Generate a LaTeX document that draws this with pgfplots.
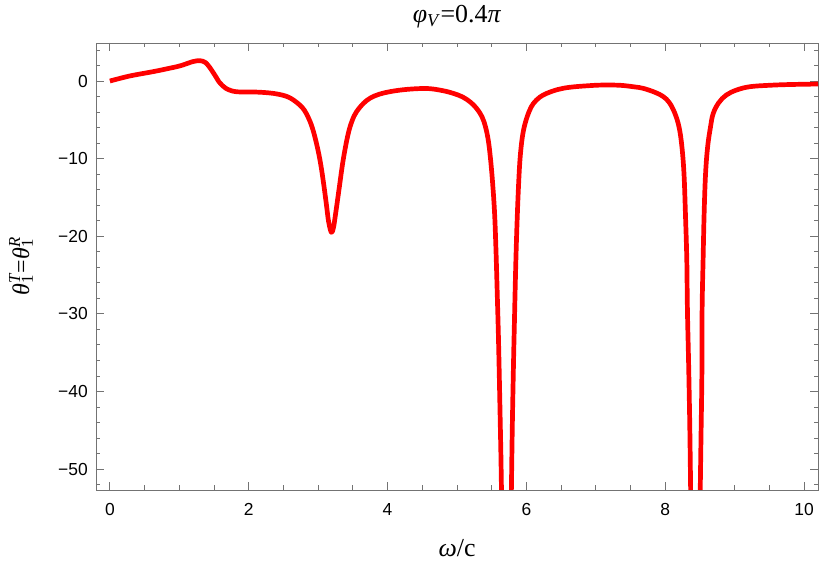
\documentclass[border=0pt]{standalone}
\usepackage{fontspec}
\setmainfont{Liberation Serif}
\newfontfamily\ticksf{Liberation Sans}
\usepackage{pgfplots}
\pgfplotsset{compat=1.18}
\usepackage{pgfplotstable}

\definecolor{framegray}{gray}{0.45}

% theta_1 against omega/c
\pgfplotstableread{
x y
0 0
0.14 0.33
0.28 0.64
0.42 0.88
0.57 1.12
0.71 1.36
0.85 1.63
0.96 1.84
1.05 2.06
1.12 2.28
1.19 2.49
1.25 2.60
1.30 2.62
1.34 2.55
1.38 2.36
1.43 1.85
1.48 1.20
1.53 0.50
1.57 -0.09
1.62 -0.58
1.67 -0.94
1.74 -1.22
1.82 -1.38
1.96 -1.42
2.10 -1.42
2.21 -1.47
2.36 -1.60
2.50 -1.85
2.60 -2.2
2.69 -2.75
2.77 -3.4
2.83 -4.2
2.90 -5.6
2.95 -7.1
3.00 -9.0
3.04 -10.9
3.08 -13.3
3.12 -16.0
3.15 -18.1
3.19 -19.5
3.22 -18.9
3.25 -17.2
3.30 -14.0
3.36 -10.2
3.43 -6.9
3.49 -5.1
3.55 -4.0
3.65 -2.9
3.75 -2.2
3.88 -1.7
4.03 -1.38
4.20 -1.15
4.40 -1.00
4.60 -0.98
4.80 -1.25
4.95 -1.60
5.08 -2.05
5.19 -2.7
5.28 -3.5
5.36 -4.6
5.41 -5.9
5.45 -7.6
5.48 -9.8
5.51 -12.8
5.54 -16.8
5.56 -21.4
5.58 -27.5
5.60 -34.2
5.63 -47.1
5.715 -85
5.80 -42.8
5.83 -29.9
5.85 -22.5
5.87 -17
5.89 -12.8
5.91 -9.8
5.94 -7.3
5.98 -5.5
6.04 -3.9
6.10 -2.9
6.19 -2.1
6.29 -1.6
6.45 -1.1
6.63 -0.8
6.90 -0.6
7.10 -0.52
7.35 -0.55
7.55 -0.75
7.68 -0.94
7.85 -1.45
7.97 -2.0
8.06 -2.8
8.14 -4.2
8.20 -6.0
8.24 -8.5
8.27 -12
8.29 -17
8.31 -23
8.32 -29.9
8.35 -42.8
8.43 -85
8.52 -42.8
8.53 -29.9
8.545 -23
8.56 -17
8.58 -12
8.61 -8.5
8.65 -6.0
8.69 -4.2
8.77 -2.8
8.88 -1.8
9.03 -1.15
9.22 -0.73
9.5 -0.55
9.8 -0.45
10.2 -0.39
}\thetadata

\begin{document}
\begin{tikzpicture}
\begin{axis}[
  scale only axis, width=722bp, height=447bp,
  xmin=-0.2, xmax=10.2, ymin=-52.7, ymax=4.9,
  axis line style={framegray, line width=0.8bp},
  xtick={0,2,...,10}, xticklabels={0,2,4,6,8,10},
  minor xtick={0,0.5,...,10},
  ytick={-50,-40,...,0}, yticklabels={−50,−40,−30,−20,−10,0},
  minor ytick={-52,-50,...,4},
  tick align=inside,
  major tick length=8bp, minor tick length=4.5bp,
  every tick/.style={framegray, line width=0.8bp},
  tick label style={font=\fontsize{17.5}{18}\ticksf, black},
  xticklabel style={inner sep=0pt, anchor=north, yshift=-13bp},
  yticklabel style={inner sep=0pt, anchor=east, xshift=-8bp},
  title={\textit{φ}\textsubscript{\textit{V}}=0.4\textit{π}},
  title style={font=\fontsize{26}{28}\selectfont, at={(axis description cs:0.5,1.0582)}, anchor=center, yshift=-6pt},
  xlabel={\textit{ω}/c},
  xlabel style={font=\fontsize{26}{28}\selectfont, at={(axis description cs:0.5,-0.1298)}, anchor=center},
  ylabel={\textit{θ}\rlap{\textsubscript{1}}\textsuperscript{\textit{T}}=\textit{θ}\rlap{\textsubscript{1}}\textsuperscript{\textit{R}}},
  ylabel style={font=\fontsize{24}{26}\selectfont, at={(axis description cs:-0.1039,0.5)}, anchor=center},
]
\addplot[red, line width=4.7bp, line join=round, smooth, tension=0.6] table[x=x, y=y] {\thetadata};
\end{axis}
\pgfresetboundingbox
\path ([shift={(-96bp,-79bp)}]current axis.south west) rectangle ([shift={(4bp,43bp)}]current axis.north east);
\end{tikzpicture}
\end{document}
